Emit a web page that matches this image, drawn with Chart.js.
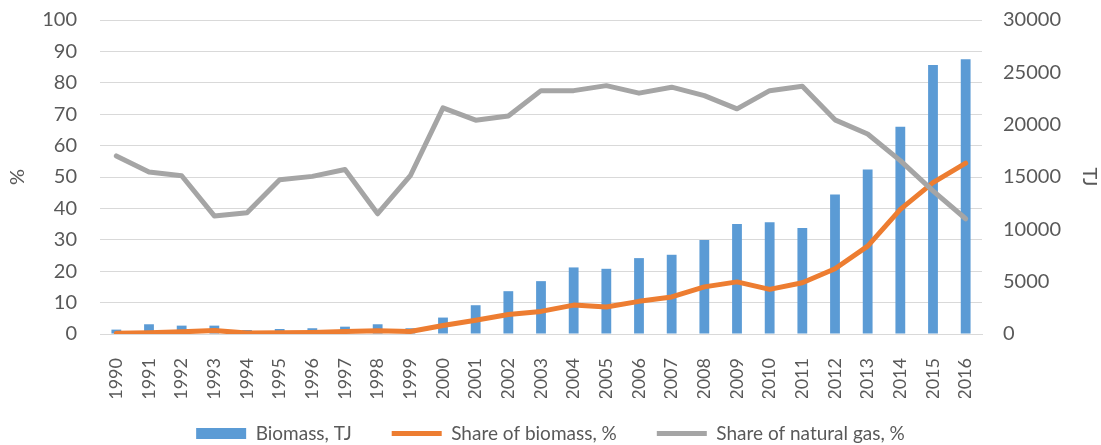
<!DOCTYPE html>
<html>
<head>
<meta charset="utf-8">
<script src="https://cdn.jsdelivr.net/npm/chart.js@4"></script>
<style>
  html, body { margin: 0; padding: 0; background: #fff; }
  #wrap { width: 1101px; height: 445px; }
</style>
</head>
<body>
<div id="wrap"><canvas id="myChart" width="1101" height="445"></canvas></div>
<script>
// data
var years = ['1990', '1991', '1992', '1993', '1994', '1995', '1996', '1997', '1998', '1999',
    '2000', '2001', '2002', '2003', '2004', '2005', '2006', '2007', '2008', '2009',
    '2010', '2011', '2012', '2013', '2014', '2015', '2016'];
var biomassTJ = [420, 930, 800, 800, 380, 480, 550, 700, 930, 550,
    1570, 2750, 4090, 5050, 6360, 6230, 7250, 7570, 8980, 10510,
    10670, 10130, 13320, 15710, 19800, 25710, 26250];
var shareBiomass = [0.2, 0.4, 0.7, 1.1, 0.3, 0.4, 0.5, 0.8, 1.0, 0.8,
    2.7, 4.4, 6.2, 7.2, 9.2, 8.6, 10.4, 11.8, 15.0, 16.6,
    14.2, 16.3, 20.8, 28.0, 39.7, 48.2, 54.4];
var shareGas = [56.7, 51.6, 50.4, 37.6, 38.6, 49.1, 50.2, 52.4, 38.3, 50.4,
    72.0, 68.1, 69.4, 77.5, 77.5, 79.1, 76.7, 78.6, 75.9, 71.7,
    77.5, 78.9, 68.2, 63.7, 55.2, 45.6, 36.7];
var percentTicks = [0, 10, 20, 30, 40, 50, 60, 70, 80, 90, 100];
var tjTicks = [0, 5000, 10000, 15000, 20000, 25000, 30000];

// pull the legend up a bit, keeping its wide item spacing
var legendShift = {
    id: 'legendShift',
    afterLayout: function (chart) {
        if (chart.legend) {
            chart.legend.top -= 14;
            chart.legend.bottom -= 14;
        }
    }
};

document.addEventListener('DOMContentLoaded', function () {
    Chart.defaults.font.family = 'Lato, "DejaVu Sans", sans-serif';
    Chart.defaults.font.size = 20;
    Chart.defaults.color = '#595959';

    var ctx = document.getElementById('myChart').getContext('2d');
    var chart = new Chart(ctx, {
        type: 'bar',
        data: {
            labels: years,
            datasets: [{
                type: 'bar',
                label: 'Biomass, TJ',
                data: biomassTJ,
                yAxisID: 'yTJ',
                backgroundColor: '#5b9bd5',
                barPercentage: 0.3,
                categoryPercentage: 1,
                order: 2
            }, {
                type: 'line',
                label: 'Share of biomass, %',
                data: shareBiomass,
                yAxisID: 'y',
                borderColor: '#ed7d31',
                backgroundColor: '#ed7d31',
                borderWidth: 5,
                pointRadius: 0,
                borderJoinStyle: 'round',
                borderCapStyle: 'round',
                fill: false,
                tension: 0,
                order: 1
            }, {
                type: 'line',
                label: 'Share of natural gas, %',
                data: shareGas,
                yAxisID: 'y',
                borderColor: '#a5a5a5',
                backgroundColor: '#a5a5a5',
                borderWidth: 5,
                pointRadius: 0,
                borderJoinStyle: 'round',
                borderCapStyle: 'round',
                fill: false,
                tension: 0,
                order: 0
            }]
        },
        options: {
            responsive: false,
            animation: false,
            layout: { padding: { top: 20, bottom: -22 } },
            scales: {
                x: {
                    offset: true,
                    grid: { display: false },
                    border: { display: true, color: '#d9d9d9' },
                    ticks: { minRotation: 90, maxRotation: 90, autoSkip: false, padding: 16, font: { size: 18 } },
                    afterFit: function (s) { s.height = 64; }
                },
                y: {
                    position: 'left',
                    min: 0,
                    max: 100,
                    afterBuildTicks: function (s) { s.ticks = percentTicks.map(function (v) { return { value: v }; }); },
                    // invisible tick marks give the gap between labels and plot
                    grid: { color: '#d9d9d9', lineWidth: 1, drawTicks: true, tickLength: 20, tickColor: 'rgba(0,0,0,0)' },
                    border: { display: false },
                    ticks: { padding: 3 },
                    title: { display: true, text: '%', padding: { top: 6, bottom: 4 } },
                    afterFit: function (s) { s.width = 100; }
                },
                yTJ: {
                    position: 'right',
                    min: 0,
                    max: 30000,
                    afterBuildTicks: function (s) { s.ticks = tjTicks.map(function (v) { return { value: v }; }); },
                    grid: { display: true, drawOnChartArea: false, drawTicks: true, tickLength: 18, tickColor: 'rgba(0,0,0,0)' },
                    border: { display: false },
                    ticks: { padding: 3, callback: function (v) { return String(v); } },
                    title: { display: true, text: 'TJ', padding: { top: 0, bottom: 8 } },
                    afterFit: function (s) { s.width = 119; }
                }
            },
            plugins: {
                legend: {
                    display: true,
                    position: 'bottom',
                    labels: {
                        usePointStyle: true,
                        pointStyleWidth: 50,
                        boxHeight: 11,
                        padding: 40,
                        font: { size: 19 },
                        color: '#595959',
                        sort: function (a, b) { return a.datasetIndex - b.datasetIndex; },
                        generateLabels: function (c) {
                            var items = Chart.defaults.plugins.legend.labels.generateLabels(c);
                            items.forEach(function (it) {
                                it.pointStyle = it.datasetIndex === 0 ? 'rect' : 'line';
                                if (it.datasetIndex === 0) { it.lineWidth = 0; }
                            });
                            return items;
                        }
                    }
                },
                tooltip: { enabled: false }
            }
        },
        plugins: [legendShift]
    });
});
</script>
</body>
</html>
